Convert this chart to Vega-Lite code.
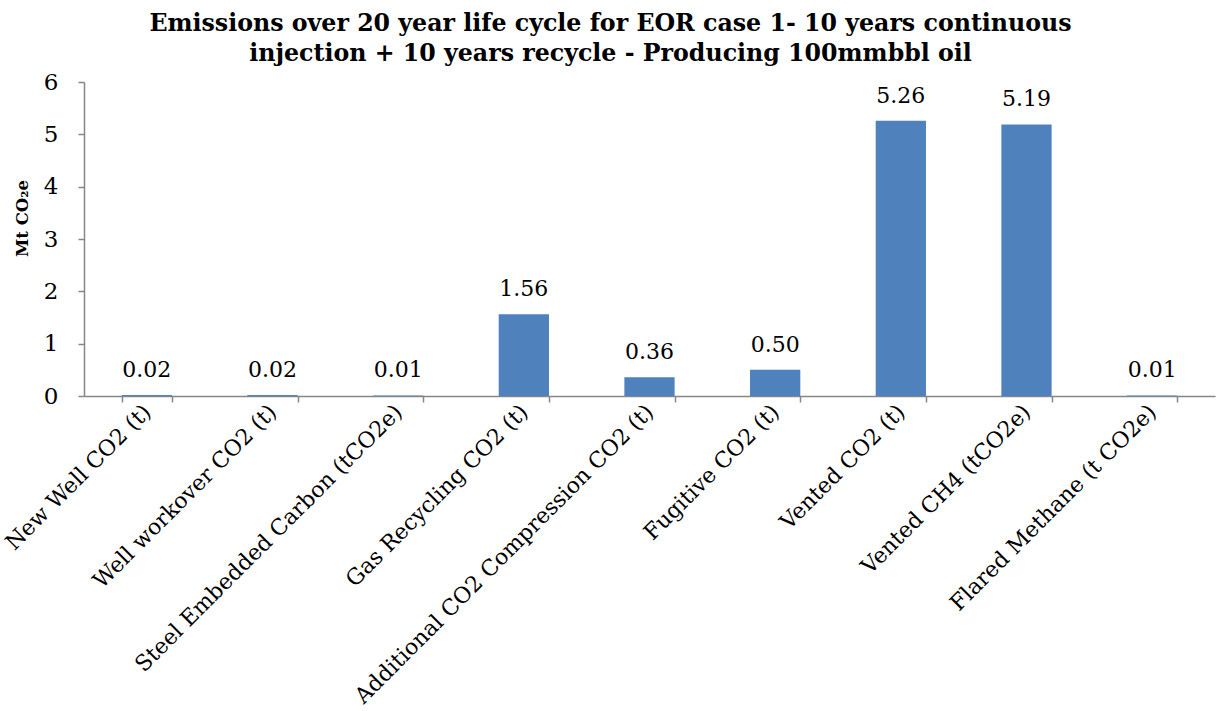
{
  "$schema": "https://vega.github.io/schema/vega-lite/v6.json",
  "width": 1131,
  "height": 314,
  "autosize": "none",
  "padding": {"left": 84, "top": 82, "right": 8, "bottom": 315},
  "background": "white",
  "title": {
    "text": ["Emissions over 20 year life cycle for EOR case 1- 10 years continuous", "injection + 10 years recycle - Producing 100mmbbl oil"],
    "font": "DejaVu Serif",
    "fontSize": 23.7,
    "fontWeight": "bold",
    "color": "#000000",
    "lineHeight": 30,
    "anchor": "middle",
    "dx": -39,
    "offset": 5
  },
  "data": {
    "values": [
      {"category": "New Well CO2 (t)", "value": 0.02},
      {"category": "Well workover CO2 (t)", "value": 0.02},
      {"category": "Steel Embedded Carbon (tCO2e)", "value": 0.01},
      {"category": "Gas Recycling CO2 (t)", "value": 1.56},
      {"category": "Additional CO2 Compression CO2 (t)", "value": 0.36},
      {"category": "Fugitive CO2 (t)", "value": 0.50},
      {"category": "Vented CO2 (t)", "value": 5.26},
      {"category": "Vented CH4 (tCO2e)", "value": 5.19},
      {"category": "Flared Methane (t CO2e)", "value": 0.01}
    ]
  },
  "encoding": {
    "x": {
      "field": "category",
      "type": "nominal",
      "sort": null,
      "scale": {"paddingInner": 0.6, "paddingOuter": 0.3},
      "axis": {
        "title": null,
        "labelAngle": -45,
        "labelAlign": "right",
        "labelBaseline": "middle",
        "labelFont": "DejaVu Serif",
        "labelFontSize": 22,
        "labelColor": "#000000",
        "labelPadding": 6,
        "domainColor": "#868686",
        "domainWidth": 1.5,
        "tickColor": "#868686",
        "tickBand": "extent",
        "tickSize": 6,
        "tickWidth": 1.5,
        "labelLimit": 0
      }
    },
    "y": {
      "field": "value",
      "type": "quantitative",
      "scale": {"domain": [0, 6], "nice": false},
      "axis": {
        "title": "Mt CO₂e",
        "titleFont": "DejaVu Serif",
        "titleFontSize": 16.5,
        "titleFontWeight": "bold",
        "titleColor": "#000000",
        "titleAngle": -90,
        "titleAlign": "center",
        "titleBaseline": "middle",
        "titleX": -62,
        "titleY": 136,
        "values": [0, 1, 2, 3, 4, 5, 6],
        "grid": false,
        "labelFont": "DejaVu Serif",
        "labelFontSize": 23,
        "labelColor": "#000000",
        "labelPadding": 20,
        "domainColor": "#868686",
        "domainWidth": 1.5,
        "tickColor": "#868686",
        "tickSize": 6,
        "tickWidth": 1.5
      }
    }
  },
  "layer": [
    {"mark": {"type": "bar", "color": "#4F81BD"}},
    {
      "mark": {"type": "text", "baseline": "bottom", "dy": -13, "font": "DejaVu Serif", "fontSize": 22, "color": "#000000"},
      "encoding": {"text": {"field": "value", "type": "quantitative", "format": ".2f"}}
    }
  ],
  "config": {"view": {"stroke": null}}
}
